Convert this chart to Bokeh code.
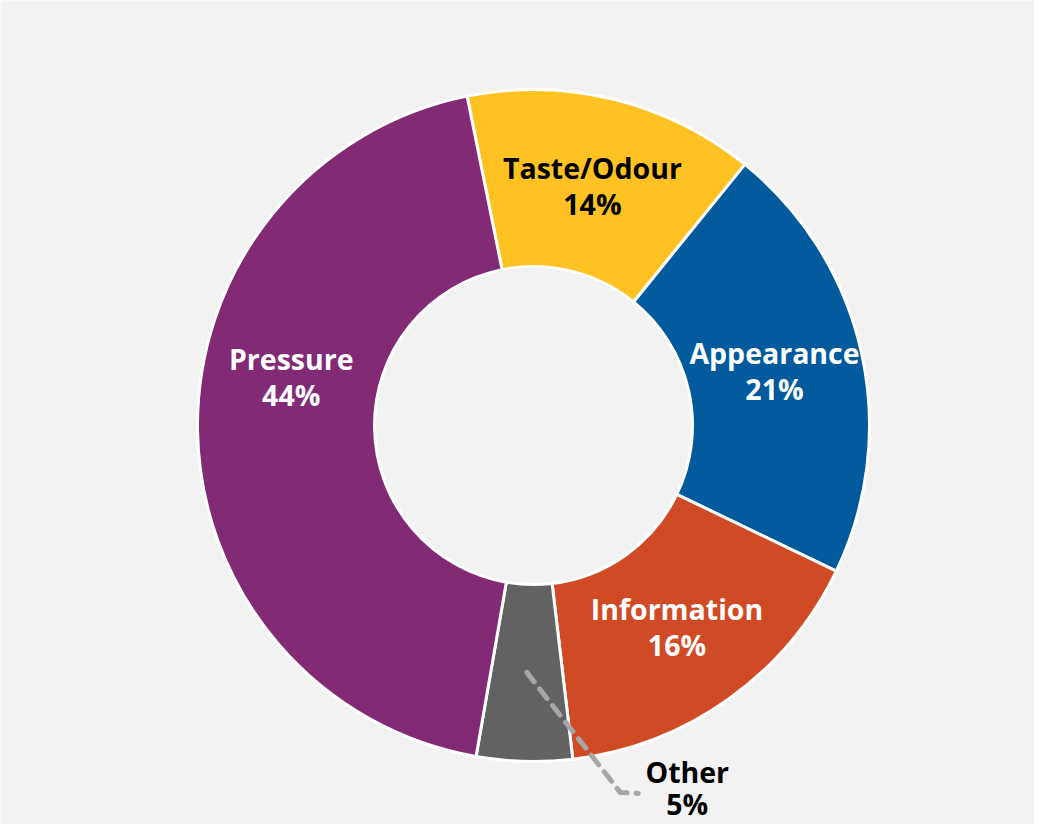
import math
from bokeh.plotting import figure
from bokeh.models import Range1d, ColumnDataSource
from bokeh.embed import file_html
from bokeh.resources import INLINE
from bokeh.core.properties import value

# ---- data ----
categories = ["Taste/Odour", "Appearance", "Information", "Other", "Pressure"]
shares = [14.0, 21.3, 16.0, 4.6, 44.1]
colors = ["#FFC222", "#005A9C", "#D04A26", "#626262", "#822A76"]
label_colors = ["#000000", "#FFFFFF", "#FFFFFF", "#000000", "#FFFFFF"]

# ---- layout ----
W, H = 1034, 824
CX, CY = 533, H - 425
R_OUT, R_IN = 336, 159
START_CW_DEG = -11.4          # first boundary, clockwise from 12 o'clock
R_LABEL = 247
LABEL_NUDGE = {"Pressure": 12.0}   # degrees clockwise
OUTSIDE = {"Other"}
FONT = value("Open Sans")
FSIZE = "28.5px"
TEXT_SHIFT = 10               # compensate renderer baseline offset

total = sum(shares)


def polar(r, cw_deg):
    t = math.radians(cw_deg)
    return CX + r * math.sin(t), CY + r * math.cos(t)


starts, ends, mids = [], [], []
c = START_CW_DEG
for s in shares:
    c1 = c + s / total * 360.0
    starts.append(math.radians(90 - c))
    ends.append(math.radians(90 - c1))
    mids.append((c + c1) / 2)
    c = c1

p = figure(width=W, height=H, x_range=Range1d(0, W), y_range=Range1d(0, H),
           output_backend="svg", toolbar_location=None, min_border=0)
p.axis.visible = False
p.grid.visible = False
p.outline_line_color = None
p.background_fill_color = "#F2F2F2"
p.border_fill_color = "#F2F2F2"

wsrc = ColumnDataSource(dict(x=[CX] * len(shares), y=[CY] * len(shares),
                             start=starts, end=ends, color=colors))
p.annular_wedge(x="x", y="y", inner_radius=R_IN, outer_radius=R_OUT,
                inner_radius_units="screen", outer_radius_units="screen",
                start_angle="start", end_angle="end", direction="clock",
                fill_color="color", line_color="white", line_width=3, source=wsrc)

lx, ly_name, ly_pct, names, pcts, tcol = [], [], [], [], [], []
for cat, s, m, tc in zip(categories, shares, mids, label_colors):
    pct = f"{s / total * 100:.0f}%"
    if cat in OUTSIDE:
        sx, sy = polar(R_LABEL, m)
        ex, ey = polar(377, 166.7)
        tx, ty = ex + 18, ey - 1
        p.line([sx, ex, tx], [sy, ey, ty], line_color="#A6A6A6", line_width=5,
               line_dash="12 9", line_cap="round", line_join="round")
        bx = tx + 49
        lx.append(bx)
        ly_name.append(ty + 11 + TEXT_SHIFT)
        ly_pct.append(ty - 21 + TEXT_SHIFT)
    else:
        bx, by = polar(R_LABEL, m + LABEL_NUDGE.get(cat, 0.0))
        lx.append(bx)
        ly_name.append(by + 8 + TEXT_SHIFT)
        ly_pct.append(by - 28 + TEXT_SHIFT)
    names.append(cat)
    pcts.append(pct)
    tcol.append(tc)

tsrc = ColumnDataSource(dict(x=lx, yn=ly_name, yp=ly_pct, name=names, pct=pcts, col=tcol))
for ycol, tcolname in (("yn", "name"), ("yp", "pct")):
    p.text(x="x", y=ycol, text=tcolname, source=tsrc, text_align="center",
           text_baseline="alphabetic", text_font=FONT, text_font_style="bold",
           text_font_size=FSIZE, text_color="col")

open("out.html", "w").write(file_html(p, INLINE))
